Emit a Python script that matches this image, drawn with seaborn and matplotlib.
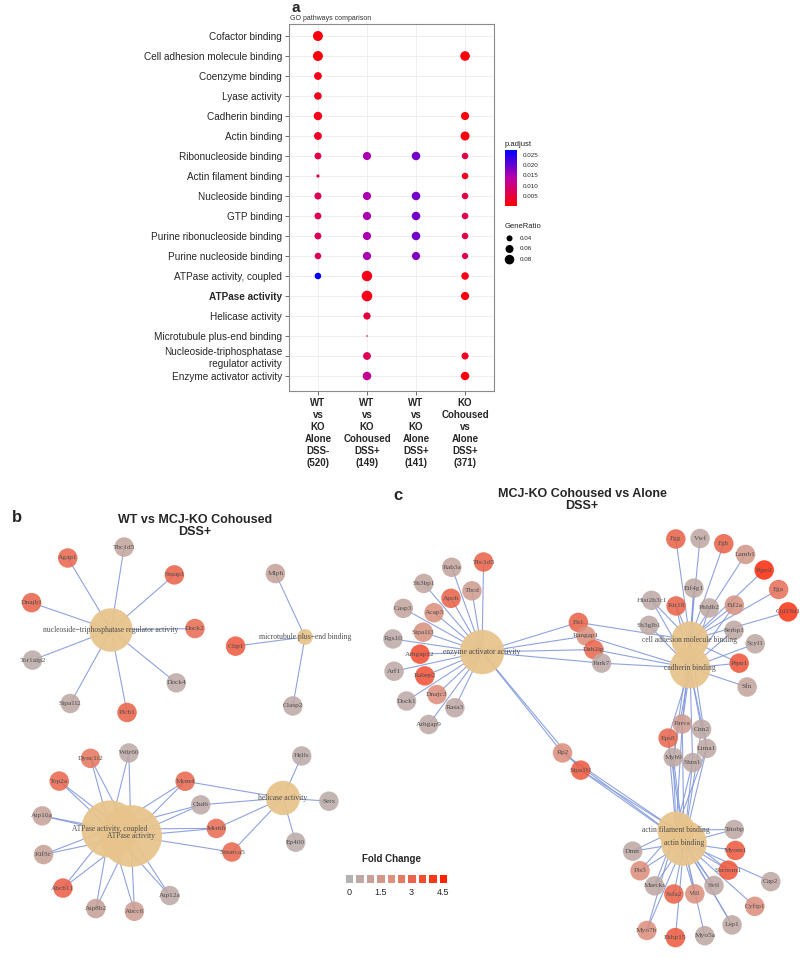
import numpy as np
import pandas as pd
import matplotlib
matplotlib.use("Agg")
import matplotlib.pyplot as plt
import seaborn as sns
from matplotlib.colors import LinearSegmentedColormap, Normalize
from matplotlib.collections import LineCollection
import matplotlib.cm as cm

sns.set_theme(style="white")
plt.rcParams["font.family"] = ["Liberation Sans", "DejaVu Sans"]

nan = np.nan

# ---------------- panel a: GO dot plot ----------------
go_terms = [
    "Cofactor binding", "Cell adhesion molecule binding", "Coenzyme binding",
    "Lyase activity", "Cadherin binding", "Actin binding",
    "Ribonucleoside binding", "Actin filament binding", "Nucleoside binding",
    "GTP binding", "Purine ribonucleoside binding", "Purine nucleoside binding",
    "ATPase activity, coupled", "ATPase activity", "Helicase activity",
    "Microtubule plus-end binding", "Nucleoside-triphosphatase\nregulator activity",
    "Enzyme activator activity",
]
comparisons = [
    "WT\nvs\nKO\nAlone\nDSS-\n(520)",
    "WT\nvs\nKO\nCohoused\nDSS+\n(149)",
    "WT\nvs\nKO\nAlone\nDSS+\n(141)",
    "KO\nCohoused\nvs\nAlone\nDSS+\n(371)",
]
ratio_alone_dssm = [0.085, 0.085, 0.058, 0.055, 0.065, 0.058, 0.048, 0.022, 0.050,
                    0.048, 0.048, 0.045, 0.045, nan, nan, nan, nan, nan]
padj_alone_dssm = [0.001, 0.001, 0.002, 0.002, 0.002, 0.003, 0.006, 0.005, 0.007,
                   0.007, 0.007, 0.007, 0.027, nan, nan, nan, nan, nan]
ratio_coh_dssp = [nan, nan, nan, nan, nan, nan, 0.062, nan, 0.062,
                  0.062, 0.062, 0.062, 0.092, 0.095, 0.052, 0.016, 0.058, 0.066]
padj_coh_dssp = [nan, nan, nan, nan, nan, nan, 0.015, nan, 0.015,
                 0.015, 0.015, 0.015, 0.002, 0.002, 0.005, 0.006, 0.007, 0.012]
ratio_alone_dssp = [nan, nan, nan, nan, nan, nan, 0.066, nan, 0.066,
                    0.066, 0.066, 0.062, nan, nan, nan, nan, nan, nan]
padj_alone_dssp = [nan, nan, nan, nan, nan, nan, 0.019, nan, 0.019,
                   0.019, 0.019, 0.018, nan, nan, nan, nan, nan, nan]
ratio_ko_dssp = [nan, 0.080, nan, nan, 0.062, 0.072, 0.045, 0.045, 0.045,
                 0.045, 0.045, 0.042, 0.055, 0.062, nan, nan, 0.050, 0.065]
padj_ko_dssp = [nan, 0.001, nan, nan, 0.001, 0.001, 0.006, 0.002, 0.006,
                0.006, 0.006, 0.006, 0.002, 0.001, nan, nan, 0.003, 0.001]
padj_ticks = [0.005, 0.010, 0.015, 0.020, 0.025]
ratio_breaks = [0.04, 0.06, 0.08]

# ---------------- panel b: WT vs MCJ-KO cohoused network ----------------
b_hubs = ["ntp", "mt", "atpc", "atp", "hel"]
b_hub_names = ["nucleoside\u2212triphosphatase regulator activity",
               "microtubule plus\u2212end binding",
               "ATPase activity, coupled", "ATPase activity", "helicase activity"]
b_genes = ["Tbc1d5", "Smap1", "Dock2", "Dock4", "Plcb1", "Sipa1l2", "Tor1aip2", "Dnajb1", "Agap1",
           "Mlph", "Clip1", "Clasp2",
           "Wdr60", "Dync1i2", "Top2a", "Atp10a", "Kif5c", "Abcb11", "Atp8b2", "Abcc6", "Atp12a",
           "Mcm4", "Chd6", "Mcm6", "Smarca5",
           "Hells", "Setx", "Ep400"]
b_fold = [0.8, 3.0, 2.8, 0.5, 3.0, 0.6, 0.4, 3.0, 2.9,
          0.9, 3.2, 0.5,
          0.5, 2.6, 2.9, 0.9, 1.0, 3.1, 1.0, 1.2, 0.5,
          2.9, 0.5, 2.8, 2.9,
          0.4, 0.4, 0.4]
b_links = ["ntp"] * 9 + ["mt"] * 3 + \
          ["atpc atp"] * 9 + \
          ["atpc atp hel", "atpc atp hel", "atpc atp hel", "atp hel"] + \
          ["hel"] * 3

# ---------------- panel c: MCJ-KO cohoused vs alone network ----------------
c_hubs = ["enz", "cam", "cad", "afb", "ab"]
c_hub_names = ["enzyme activator activity", "cell adhesion molecule binding",
               "cadherin binding", "actin filament binding", "actin binding"]
c_genes = ["Tbc1d5", "Tbcd", "Rab3a", "Apoh", "Sh3bp1", "Acap3", "Casp3", "Sipa1l3",
           "Rgs10", "Arhgap12", "Arf1", "Rabep2", "Dock1", "Dnajc3", "Arhgap9", "Rasa3",
           "Fn1", "Rangap1", "Dab2ip", "Park7",
           "Rp2", "Sipa1l1",
           "Fgg", "Vwf", "Fgb", "Lamb1", "Ptprd", "Fga", "Col18a1",
           "Sh3glb1", "Hist2h3c1", "Krt18", "Eif4g1", "Phldb2", "Eif2a", "Serbp1", "Scyl1", "Ptpn1", "Sfn",
           "Eps8", "Parva", "Cnn2", "Lima1", "Shtn1", "Myh9",
           "Triobp", "Myom1", "Shroom1", "Svil", "Vill", "Ssfa2", "Marcks", "Pls3", "Dmn",
           "Cap2", "Cyfip1", "Lsp1", "Myo5a", "Fkbp15", "Myo7b"]
c_fold = [3.0, 1.3, 0.8, 3.0, 0.7, 1.9, 0.8, 1.8,
          0.5, 3.5, 0.5, 3.4, 0.5, 2.0, 0.5, 0.6,
          3.0, 1.9, 2.9, 0.5,
          2.0, 3.2,
          3.0, 0.6, 3.0, 1.5, 4.2, 2.7, 4.0,
          0.5, 0.5, 3.0, 0.6, 0.6, 1.8, 0.6, 0.6, 3.3, 0.8,
          2.9, 1.3, 0.6, 0.6, 0.6, 0.6,
          0.6, 3.2, 3.3, 0.6, 1.9, 3.0, 0.6, 2.0, 0.6,
          0.6, 2.0, 0.6, 0.6, 3.2, 2.0]
c_links = ["enz"] * 16 + \
          ["enz cam", "enz cad", "enz cad", "enz cad"] + \
          ["enz afb ab", "enz afb ab"] + \
          ["cam"] * 7 + \
          ["cad", "cam cad", "cam cad", "cam cad", "cad", "cam cad", "cad", "cad", "cam cad", "cad"] + \
          ["cad afb ab", "cam cad afb ab", "cad ab", "cam cad afb ab", "cad afb ab", "cam cad afb ab"] + \
          ["afb ab", "ab", "afb ab", "afb ab", "afb ab", "ab", "afb ab", "afb ab", "afb ab"] + \
          ["ab", "ab", "afb ab", "ab", "ab", "afb ab"]

fc_breaks = [0.0, 0.5, 1.0, 1.5, 2.0, 2.5, 3.0, 3.5, 4.0, 4.5]

# ---------------- layout (pixel coordinates of the figure) ----------------
b_hub_xy = {"ntp": (111, 630), "mt": (305, 637), "atpc": (110, 829), "atp": (131, 836), "hel": (283, 798)}
c_hub_xy = {"enz": (482, 652), "cam": (690, 640), "cad": (690, 668), "afb": (676, 830), "ab": (684, 843)}

b_layout = [
    dict(kind="ring", center=("ntp",), a0=81, a1=-239, radii=(84,), genes=b_genes[0:9]),
    dict(kind="ring", center=("mt",), a0=115, a1=260, radii=(70,), genes=b_genes[9:12]),
    dict(kind="ring", center=("atpc", "atp"), a0=84, a1=308, radii=(80,), genes=b_genes[12:21]),
    dict(kind="bridge", ends=("atp", "hel"), t0=0.42, t1=0.6, o0=-40, o1=40, genes=b_genes[21:25]),
    dict(kind="ring", center=("hel",), a0=66, a1=-74, radii=(46,), genes=b_genes[25:28]),
]
c_layout = [
    dict(kind="ring", center=("enz",), a0=89, a1=244, radii=(90, 62), genes=c_genes[0:16]),
    dict(kind="bridge", ends=("enz", "cam"), t0=0.47, t1=0.57, o0=-24, o1=18, genes=c_genes[16:20]),
    dict(kind="bridge", ends=("enz", "ab"), t0=0.46, t1=0.55, o0=18, o1=18, genes=c_genes[20:22]),
    dict(kind="ring", center=("cam",), a0=98, a1=16, radii=(102,), genes=c_genes[22:29]),
    dict(kind="ring", center=("cam", "cad"), a0=145, a1=-30, radii=(50, 66), genes=c_genes[29:39]),
    dict(kind="ring", center=("cad", "ab"), t=0.43, a0=165, a1=-135, radii=(20,), genes=c_genes[39:45]),
    dict(kind="ring", center=("ab",), a0=15, a1=-171, radii=(52,), genes=c_genes[45:54]),
    dict(kind="ring", center=("ab",), a0=-24, a1=-113, radii=(95,), genes=c_genes[54:60]),
]


def interp(p, q, t):
    return (p[0] + t * (q[0] - p[0]), p[1] + t * (q[1] - p[1]))


def place(layout, hub_xy):
    out = {}
    for spec in layout:
        names = spec["genes"]
        n = len(names)
        if spec["kind"] == "ring":
            h = spec["center"]
            c = hub_xy[h[0]] if len(h) == 1 else interp(hub_xy[h[0]], hub_xy[h[1]], spec.get("t", 0.5))
            angs = np.deg2rad(np.linspace(spec["a0"], spec["a1"], n))
            for i, (g, a) in enumerate(zip(names, angs)):
                r = spec["radii"][i % len(spec["radii"])]
                out[g] = (c[0] + r * np.cos(a), c[1] - r * np.sin(a))
        else:
            p0, p1 = hub_xy[spec["ends"][0]], hub_xy[spec["ends"][1]]
            d = np.subtract(p1, p0)
            perp = np.array([-d[1], d[0]]) / np.hypot(*d)
            for g, t, o in zip(names, np.linspace(spec["t0"], spec["t1"], n),
                               np.linspace(spec["o0"], spec["o1"], n)):
                base = interp(p0, p1, t)
                out[g] = (base[0] + o * perp[0], base[1] + o * perp[1])
    return out


fc_cmap = LinearSegmentedColormap.from_list("fc", [(0, "#b3b3b3"), (0.45, "#dd8f7c"), (1, "#ff2200")])
p_cmap = LinearSegmentedColormap.from_list("padj", [(0, "#ff0000"), (0.5, "#bb00a8"), (1, "#0000ff")])

fig = plt.figure(figsize=(8, 9.58), dpi=100)

# network overlay axes in pixel units
net = fig.add_axes([0, 0, 1, 1])
net.set_xlim(0, 800)
net.set_ylim(958, 0)
net.axis("off")

serif = ["Liberation Serif", "DejaVu Serif"]


def draw_network(genes, fold, links, hubs, hub_names, hub_xy, layout, size_base, size_per):
    pos = place(layout, hub_xy)
    segs = []
    counts = {h: 0 for h in hubs}
    for g, lk in zip(genes, links):
        for h in lk.split():
            segs.append([pos[g], hub_xy[h]])
            counts[h] += 1
    net.add_collection(LineCollection(segs, colors="#8299dc", linewidths=0.8, alpha=0.9, zorder=1))
    hx = [hub_xy[h][0] for h in hubs]
    hy = [hub_xy[h][1] for h in hubs]
    hs = [(0.72 * 2 * (size_base + size_per * counts[h])) ** 2 for h in hubs]
    net.scatter(hx, hy, s=hs, color="#e8c48c", alpha=0.95, edgecolors="none", zorder=2)
    gdf = pd.DataFrame({"x": [pos[g][0] for g in genes], "y": [pos[g][1] for g in genes], "fc": fold})
    sns.scatterplot(data=gdf, x="x", y="y", hue="fc", palette=fc_cmap, hue_norm=(0, 4.5),
                    s=(0.72 * 19.5) ** 2, alpha=0.88, edgecolor="none", legend=False, ax=net, zorder=3)
    for g in genes:
        net.text(pos[g][0], pos[g][1], g, ha="center", va="center", fontsize=5.3,
                 color="#4f4f4f", family=serif, zorder=4)
    for h, name in zip(hubs, hub_names):
        net.text(hub_xy[h][0], hub_xy[h][1], name, ha="center", va="center", fontsize=5.5,
                 color="#4f4f4f", family=serif, zorder=5)


draw_network(b_genes, b_fold, b_links, b_hubs, b_hub_names, b_hub_xy, b_layout, 1.0, 2.3)
draw_network(c_genes, c_fold, c_links, c_hubs, c_hub_names, c_hub_xy, c_layout, 9.0, 0.6)
net.set_xlim(0, 800)
net.set_ylim(958, 0)
net.set_xlabel("")
net.set_ylabel("")

# ---- dot plot ----
cols = [ratio_alone_dssm, ratio_coh_dssp, ratio_alone_dssp, ratio_ko_dssp]
pcols = [padj_alone_dssm, padj_coh_dssp, padj_alone_dssp, padj_ko_dssp]
rows = []
for ci, (rr, pp) in enumerate(zip(cols, pcols)):
    for ti, (r, p) in enumerate(zip(rr, pp)):
        rows.append({"col": ci, "row": ti, "ratio": r, "padj": p})
df = pd.DataFrame(rows).dropna()

ax = fig.add_axes([289 / 800, 1 - 391 / 958, 205 / 800, 367 / 958])
ax.set_facecolor("white")
sns.scatterplot(data=df, x="col", y="row", hue="padj", size="ratio", palette=p_cmap,
                hue_norm=(0, 0.0275), sizes=(0.5, 58.6), size_norm=(0.015, 0.095),
                edgecolor="none", legend=False, ax=ax, zorder=3)
ax.set_xlim(-0.59, 3.59)
ax.set_ylim(17.75, -0.6)
ax.set_xticks(range(4))
ax.set_xticklabels(comparisons, fontsize=7, fontweight="bold", linespacing=1.25)
ax.set_yticks(range(len(go_terms)))
ax.set_yticklabels(go_terms, fontsize=7.2)
ax.get_yticklabels()[13].set_fontweight("bold")
ax.set_xlabel("")
ax.set_ylabel("")
ax.grid(True, color="#ececec", lw=0.6)
ax.set_axisbelow(True)
ax.tick_params(left=True, bottom=True, length=3, width=0.6, color="#555555", pad=2)
for sp in ax.spines.values():
    sp.set_color("#8a8a8a")
    sp.set_linewidth(0.8)
fig.text(290 / 800, 1 - 19 / 958, "GO pathways comparison", fontsize=5, color="#333333", va="center")

# colorbar for p.adjust
cax = fig.add_axes([505 / 800, 1 - 206 / 958, 12 / 800, 56 / 958])
sm = cm.ScalarMappable(norm=Normalize(0, 0.0275), cmap=p_cmap)
cb = fig.colorbar(sm, cax=cax, ticks=padj_ticks)
cb.outline.set_visible(False)
cb.ax.set_yticklabels([f"{v:.3f}" for v in padj_ticks])
cb.ax.tick_params(labelsize=4.5, length=2.5, color="white", width=0.6, pad=1.5)
fig.text(505 / 800, 1 - 145 / 958, "p.adjust", fontsize=5.5, color="#222222", va="center")

# size legend
fig.text(505 / 800, 1 - 226 / 958, "GeneRatio", fontsize=5.5, color="#222222", va="center")
lax = fig.add_axes([503 / 800, 1 - 266 / 958, 50 / 800, 34 / 958])
ldf = pd.DataFrame({"x": [0] * len(ratio_breaks), "y": range(len(ratio_breaks)), "r": ratio_breaks})
sns.scatterplot(data=ldf, x="x", y="y", size="r", sizes=(0.5, 58.6), size_norm=(0.015, 0.095),
                color="black", edgecolor="none", legend=False, ax=lax)
for i, r in enumerate(ratio_breaks):
    lax.text(0.9, i, f"{r:.2f}", fontsize=4.5, va="center", color="#222222")
lax.set_xlim(-0.6, 4)
lax.set_ylim(2.6, -0.6)
lax.axis("off")

# fold change legend
hax = fig.add_axes([344 / 800, 1 - 884 / 958, 104 / 800, 11 / 958])
sns.heatmap(np.array([fc_breaks]), cmap=fc_cmap, vmin=0, vmax=4.5, cbar=False,
            linewidths=1, linecolor="white", ax=hax)
hax.set_xticks([0.5, 3.5, 6.5, 9.5])
hax.set_xticklabels(["0", "1.5", "3", "4.5"], rotation=0, fontsize=6.5)
hax.set_yticks([])
hax.tick_params(length=0, pad=3)
fig.text(391 / 800, 1 - 859 / 958, "Fold Change", fontsize=7, fontweight="bold", ha="center", va="center")

# panel letters and titles
fig.text(291 / 800, 1 - 8 / 958, "a", fontsize=11, fontweight="bold", va="center")
fig.text(12 / 800, 1 - 517 / 958, "b", fontsize=12, fontweight="bold", va="center")
fig.text(393 / 800, 1 - 495 / 958, "c", fontsize=12, fontweight="bold", va="center")
fig.text(195 / 800, 1 - 526 / 958, "WT vs MCJ-KO Cohoused\nDSS+", fontsize=9, fontweight="bold",
         ha="center", va="center", linespacing=1.1)
fig.text(582 / 800, 1 - 500 / 958, "MCJ-KO Cohoused vs Alone\nDSS+", fontsize=9, fontweight="bold",
         ha="center", va="center", linespacing=1.1)

fig.savefig("out.png", dpi=100)
